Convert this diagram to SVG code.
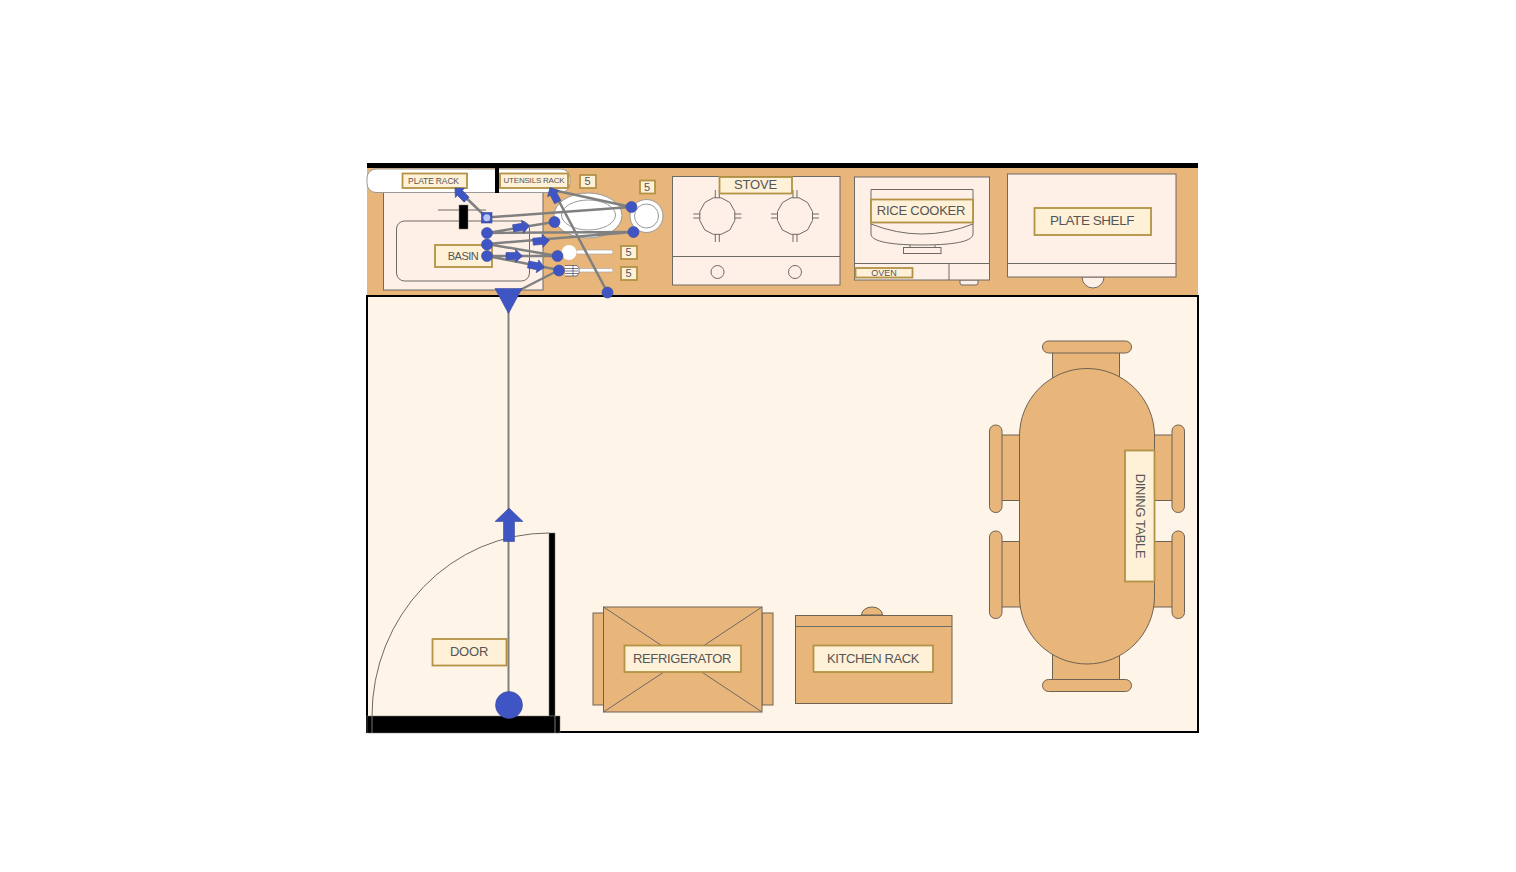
<svg xmlns="http://www.w3.org/2000/svg" width="1516" height="872" viewBox="0 0 1516 872">
<style>
text{font-family:"Liberation Sans",Arial,sans-serif;fill:#555;text-anchor:middle;dominant-baseline:central}
.tan{fill:#E8B67A;stroke:#6e6252;stroke-width:1}
.pale{fill:#FEF0E6;stroke:#6e6a66;stroke-width:1}
.lbl{fill:#FFF0D8;stroke:#B39245;stroke-width:1.8}
.ln{fill:none;stroke:#6e6a66;stroke-width:1}
.wh{fill:#fff;stroke:#9a9a9a;stroke-width:1}
.inner{fill:none;stroke:#999;stroke-width:1}
.con{stroke:#808080;stroke-width:2.500;fill:none}
.dot{fill:#3F55C4;stroke:#3a4a9c;stroke-width:.6}
.blk{fill:#000;stroke:#777;stroke-width:.5}
</style>
<defs>
<path id="arr" d="M-8-3.500H1.500V-6.500L8.500 0 1.500 6.500V3.500H-8Z"/>
<g id="burner"><path class="ln" d="M-4-18.200 4-18.200 12.500-13.500 17.500-4.500 17.500 4.500 12.500 14 4 18.300-4 18.300-12.500 14-17.500 4.500-17.500-4.500-12.500-13.500Z"/><path class="ln" d="M-2-26V-18M2-26V-18M-2 18V26M2 18V26M-24-2H-17M-24 2H-17M17-2H24M17 2H24"/></g>
</defs>
<g id="room">
<rect x="367" y="166" width="831" height="130" fill="#E8B67A"/>
<rect x="367" y="163" width="831" height="5" fill="#000"/>
<rect x="367" y="296" width="831" height="436" fill="#FFF4E8" stroke="#000" stroke-width="2"/>
</g>
<g id="basin">
<rect class="pale" x="383.500" y="188" width="159.500" height="102"/>
<rect class="ln" x="396.500" y="221" width="133" height="60" rx="8"/>
<path class="ln" d="M438 210H486"/>
<rect class="blk" x="459" y="205" width="9" height="24"/>
<rect x="435" y="245" width="57" height="22" class="lbl"/><text x="463" y="255.500" font-size="11" letter-spacing="-.5">BASIN</text>
</g>
<g id="plate-rack">
<rect x="367" y="169" width="203" height="23.500" rx="9" fill="#fff" stroke="#999"/>
<rect x="495" y="168" width="4" height="25" fill="#000"/>
<rect x="402.500" y="173.500" width="64.500" height="14.500" class="lbl"/><text x="433.500" y="180.500" font-size="8.500" letter-spacing="-.15">PLATE RACK</text>
</g>
<g id="utensils-rack">
<rect x="500" y="173.500" width="68" height="14.500" class="lbl"/><text x="534" y="180.500" font-size="8" letter-spacing="-.2">UTENSILS RACK</text>
</g>
<g id="plates">
<ellipse class="wh" cx="588" cy="215.500" rx="34" ry="22.500"/>
<ellipse class="inner" cx="588.500" cy="215" rx="27" ry="15"/>
<circle class="wh" cx="646.500" cy="216" r="16.500"/>
<circle class="inner" cx="646.500" cy="216" r="12"/>
<rect x="576" y="250" width="37" height="4" rx="2" fill="#fff" stroke="#aaa" stroke-width=".7"/>
<circle cx="569" cy="252.500" r="7.500" fill="#fff"/>
<rect x="578" y="268.500" width="35" height="3.500" rx="1.700" fill="#fff" stroke="#aaa" stroke-width=".7"/>
<path d="M565 265.500H577L579 268V273L577 276H565" fill="#fff" stroke="#445" stroke-width=".7"/><path d="M565 268.500H578M565 271H578M565 273.500H578M573 265.500V276" fill="none" stroke="#445" stroke-width=".7"/>
</g>
<g id="count-labels">
<rect x="580" y="175" width="16" height="13" class="lbl"/><text x="587.500" y="181" font-size="11">5</text>
<rect x="640" y="180.500" width="15" height="13" class="lbl"/><text x="647" y="187" font-size="11">5</text>
<rect x="621" y="246" width="16" height="13" class="lbl"/><text x="628.500" y="252" font-size="11">5</text>
<rect x="621" y="267" width="16" height="13" class="lbl"/><text x="628.500" y="273" font-size="11">5</text>
</g>
<g id="stove">
<rect class="pale" x="672.500" y="176.500" width="167.500" height="108.500"/>
<path class="ln" d="M672.500 256.500H840"/>
<use href="#burner" x="717.300" y="216"/><use href="#burner" x="795" y="216"/>
<circle class="ln" cx="717.500" cy="272" r="6.500"/><circle class="ln" cx="795" cy="272" r="6.500"/>
<rect x="719.500" y="177" width="72.500" height="16.500" class="lbl"/><text x="755.500" y="184.500" font-size="13" letter-spacing="-.2">STOVE</text>
</g>
<g id="rice-cooker">
<path class="pale" d="M960 280H978V283Q978 285 976 285H962Q960 285 960 283Z"/>
<rect class="pale" x="854.500" y="177" width="135" height="103"/>
<path class="ln" d="M854.500 263.500H989.500M949 263.500V280"/>
<path class="ln" d="M871 234V189.500H973V234C973 240 960 245 922 245C884 245 871 240 871 234Z"/>
<path class="ln" d="M871 224Q922 244 973 224M910 245V247M935 245V247"/>
<rect class="ln" x="903.500" y="247.500" width="37.500" height="6"/>
<rect x="871" y="199.500" width="102" height="23" class="lbl"/><text x="921" y="210" font-size="13" letter-spacing="-.25">RICE COOKER</text>
<rect x="855.500" y="268" width="57" height="9.500" class="lbl"/><text x="884" y="273" font-size="9">OVEN</text>
</g>
<g id="plate-shelf">
<path class="pale" d="M1082 277A11 11 0 0 0 1104 277Z"/>
<rect class="pale" x="1007.500" y="174" width="168.500" height="103"/>
<path class="ln" d="M1007.500 263.500H1176"/>
<rect x="1034.500" y="208" width="116.500" height="27" class="lbl"/><text x="1092" y="220" font-size="13.500" letter-spacing="-.45">PLATE SHELF</text>
</g>
<g id="door">
<path class="ln" d="M372 716A177 183 0 0 1 549 533"/>
<rect class="blk" x="549" y="533" width="6" height="183"/>
<rect class="blk" x="367" y="716" width="193" height="17"/>
<path d="M372 716V733M555 716V733" stroke="#777" fill="none"/>
<rect x="432.500" y="639" width="74" height="26.500" class="lbl"/><text x="469" y="651" font-size="13" letter-spacing="-.2">DOOR</text>
</g>
<g id="refrigerator">
<rect class="tan" x="593" y="613" width="11" height="92"/>
<rect class="tan" x="762" y="613" width="11" height="92"/>
<rect class="tan" x="603.500" y="607" width="158.500" height="105"/>
<path class="ln" d="M603.500 607 762 712M762 607 603.500 712"/>
<rect x="624.500" y="645.500" width="116.500" height="26.500" class="lbl"/><text x="682" y="658" font-size="13" letter-spacing="-.33">REFRIGERATOR</text>
</g>
<g id="kitchen-rack">
<path class="tan" d="M861.500 615A10.500 8 0 0 1 882.500 615Z"/>
<rect class="tan" x="795.500" y="615.500" width="156.500" height="88"/>
<path class="ln" d="M795.500 626.500H952"/>
<rect x="813.500" y="645.500" width="119.500" height="26.500" class="lbl"/><text x="873" y="658" font-size="13" letter-spacing="-.4">KITCHEN RACK</text>
</g>
<g id="dining-table">
<rect class="tan" x="1052.500" y="352" width="67" height="30"/>
<rect class="tan" x="1052.500" y="650" width="67" height="30"/>
<rect class="tan" x="1042.500" y="341" width="89" height="12" rx="6"/>
<rect class="tan" x="1042.500" y="679.500" width="89" height="12" rx="6"/>
<rect class="tan" x="1001" y="435" width="22" height="65.500"/><rect class="tan" x="1001" y="541.500" width="22" height="65.500"/>
<rect class="tan" x="1150" y="435" width="23" height="65.500"/><rect class="tan" x="1150" y="541.500" width="23" height="65.500"/>
<rect class="tan" x="989.500" y="425" width="12.500" height="87.500" rx="6"/><rect class="tan" x="989.500" y="531" width="12.500" height="87.500" rx="6"/>
<rect class="tan" x="1172" y="425" width="12.500" height="87.500" rx="6"/><rect class="tan" x="1172" y="531" width="12.500" height="87.500" rx="6"/>
<rect class="tan" x="1019.500" y="368.500" width="135" height="295.500" rx="67.500"/>
<rect x="1125" y="450.500" width="29.500" height="131" class="lbl"/><text transform="translate(1140 516) rotate(90)" font-size="13" letter-spacing="-.4">DINING TABLE</text>
</g>
<g id="connectors">
<path class="con" d="M486.500 217.500 631 207M486.500 217.500 459 191M487 233 554 222M487 233 633 232M487 244 633 232M487 244 557.500 256M487 256 557.500 256M487 256 559 270M559 270 520 290M607.500 292.500 553 190M631 207 553 190"/>
<path class="con" style="stroke-width:2" d="M508.500 305V705"/>
<g class="dot">
<use href="#arr" transform="translate(521 227) rotate(-9)"/>
<use href="#arr" transform="translate(541 241) rotate(-5)"/>
<use href="#arr" transform="translate(514 256)"/>
<use href="#arr" transform="translate(536 266) rotate(11)"/>
<use href="#arr" transform="translate(461 194) rotate(-135)"/>
<use href="#arr" transform="translate(554 195) rotate(-118)"/>
<path d="M495 288.500H522L508.500 313.500Z"/>
<path d="M503.500 541.500V521.500H495L509 508 523 521.500H514.500V541.500Z"/>
<circle cx="509" cy="705" r="13.500"/>
<rect x="481.500" y="212.500" width="10.500" height="10.500"/>
<circle cx="487" cy="233" r="5.500"/><circle cx="487" cy="244.500" r="5.500"/><circle cx="487" cy="256" r="5.500"/>
<circle cx="554.500" cy="222" r="5.500"/><circle cx="631.500" cy="207" r="5.500"/><circle cx="633.500" cy="232" r="5.500"/>
<circle cx="557.500" cy="256" r="5.500"/><circle cx="559" cy="270.500" r="5.500"/><circle cx="607.500" cy="292.500" r="5.500"/>
</g>
<circle cx="486.800" cy="217.800" r="3.500" fill="#b9c6f5"/>
</g>
</svg>
